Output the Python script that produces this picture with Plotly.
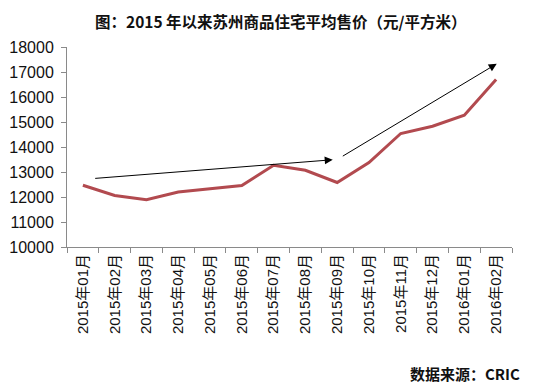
import plotly.graph_objects as go

months = ["2015年01月", "2015年02月", "2015年03月", "2015年04月", "2015年05月",
          "2015年06月", "2015年07月", "2015年08月", "2015年09月", "2015年10月",
          "2015年11月", "2015年12月", "2016年01月", "2016年02月"]
prices = [12470, 12060, 11890, 12200, 12330, 12460, 13270, 13070, 12580,
          13380, 14540, 14830, 15270, 16700]

title_text = "图：2015 年以来苏州商品住宅平均售价（元/平方米）"
source_text = "数据来源：CRIC"

# trend arrows (start index, start value, end index, end value)
arrows = [(0.34, 12740, 7.86, 13490), (8.13, 13600, 13.02, 17330)]

fig = go.Figure()
fig.add_trace(go.Scatter(x=months, y=prices, mode="lines",
                         line=dict(color="#b24a4f", width=3), showlegend=False))

annots = []
for x0, y0, x1, y1 in arrows:
    annots.append(dict(x=x1, y=y1, ax=x0, ay=y0, xref="x", yref="y",
                       axref="x", ayref="y", showarrow=True, arrowhead=2,
                       arrowsize=1.6, arrowwidth=1, arrowcolor="black", text=""))

annots.append(dict(text="<b>" + title_text + "</b>", x=0.481, y=1.13,
                   xref="paper", yref="paper", xanchor="center", yanchor="middle",
                   showarrow=False,
                   font=dict(family="Noto Sans CJK SC", size=15.5, color="#111")))
annots.append(dict(text="<b>" + source_text + "</b>", x=1.022, y=-0.63,
                   xref="paper", yref="paper", xanchor="right", yanchor="middle",
                   showarrow=False,
                   font=dict(family="Noto Sans CJK SC", size=15, color="#111")))

fig.update_layout(
    width=526, height=380,
    margin=dict(l=59, r=22, t=39, b=141),
    paper_bgcolor="white", plot_bgcolor="white",
    font=dict(family="Liberation Sans, Noto Sans CJK SC", size=15, color="#111"),
    annotations=annots,
)

fig.update_xaxes(type="category", tickson="boundaries", tickangle=-90,
                 range=[-0.5, len(months) - 0.5],
                 showline=True, linecolor="#8a8a8a", linewidth=1,
                 ticks="outside", ticklen=5, tickcolor="#8a8a8a",
                 showgrid=False, zeroline=False, tickfont=dict(size=15),
                 automargin=False)
fig.update_yaxes(range=[10000, 18000], dtick=1000, tickformat="d", showline=True,
                 linecolor="#8a8a8a", linewidth=1, ticks="outside", ticklen=5,
                 tickcolor="#8a8a8a", showgrid=False, zeroline=False,
                 tickfont=dict(size=16), ticklabelstandoff=4, automargin=False)

fig.write_html("out.html")
